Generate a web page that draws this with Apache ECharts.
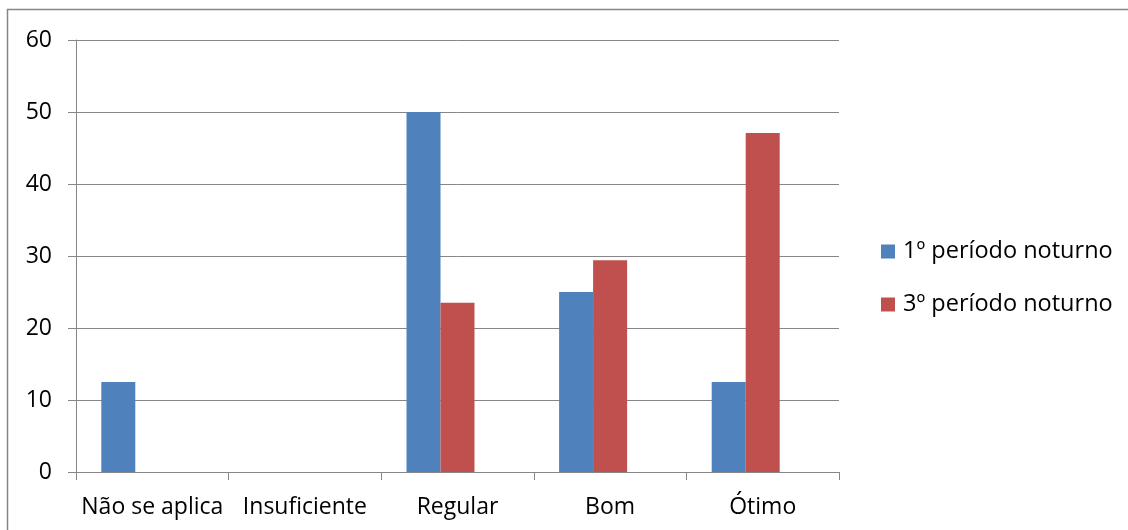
<!DOCTYPE html>
<html>
<head>
<meta charset="utf-8">
<script src="https://cdn.jsdelivr.net/npm/echarts@6/dist/echarts.min.js"></script>
<style>
html,body{margin:0;padding:0;background:#fff;}
#c{width:1128px;height:530px;}
</style>
</head>
<body>
<div id="c"></div>
<script>
const categories = ['Não se aplica', 'Insuficiente', 'Regular', 'Bom', 'Ótimo'];
const seriesNames = ['1º período noturno', '3º período noturno'];
const periodo1 = [12.5, 0, 50, 25, 12.5];
const periodo3 = [0, 0, 23.5, 29.4, 47.1];
const emptySlot = []; // empty series slot present in the original chart (no data, reserves space)
const yTicks = [0, 10, 20, 30, 40, 50, 60];

const font = 'Open Sans';
const chart = echarts.init(document.getElementById('c'), null, {renderer: 'canvas'});
chart.setOption({
  animation: false,
  backgroundColor: '#fff',
  graphic: [{
    type: 'rect',
    shape: {x: 7.5, y: 9.5, width: 1300, height: 700},
    style: {fill: 'none', stroke: '#868686', lineWidth: 1.5},
    silent: true, z: -1
  }],
  grid: {left: 76, right: 289, top: 40, bottom: 58, containLabel: false},
  legend: {
    orient: 'vertical',
    left: 876, top: 234,
    itemWidth: 14, itemHeight: 14,
    itemGap: 28,
    icon: 'rect',
    textStyle: {fontFamily: font, fontSize: 23.5, color: '#000', padding: [0, 0, 0, 3], lineHeight: 25},
    data: seriesNames
  },
  xAxis: {
    type: 'category',
    data: categories,
    axisLine: {lineStyle: {color: '#868686', width: 1}},
    axisTick: {show: true, length: 8, alignWithLabel: false, lineStyle: {color: '#868686'}},
    axisLabel: {fontFamily: font, fontSize: 23, color: '#000', margin: 24, interval: 0}
  },
  yAxis: {
    type: 'value',
    min: yTicks[0], max: yTicks[yTicks.length - 1], interval: 10,
    axisLine: {show: true, lineStyle: {color: '#868686', width: 1}},
    axisTick: {show: true, length: 8, lineStyle: {color: '#868686'}},
    splitLine: {show: true, lineStyle: {color: '#868686', width: 1}},
    axisLabel: {fontFamily: font, fontSize: 23, color: '#000', margin: 24}
  },
  series: [
    {
      name: seriesNames[0], type: 'bar', data: periodo1,
      barWidth: 34, barGap: '0%',
      itemStyle: {color: '#4F81BD', borderWidth: 0}
    },
    {
      name: seriesNames[1], type: 'bar', data: periodo3,
      barWidth: 34, barGap: '0%',
      itemStyle: {color: '#C0504D', borderWidth: 0}
    },
    {
      name: '', type: 'bar', data: emptySlot,
      barWidth: 34, barGap: '0%',
      itemStyle: {color: '#9BBB59'}
    }
  ]
});
</script>
</body>
</html>
